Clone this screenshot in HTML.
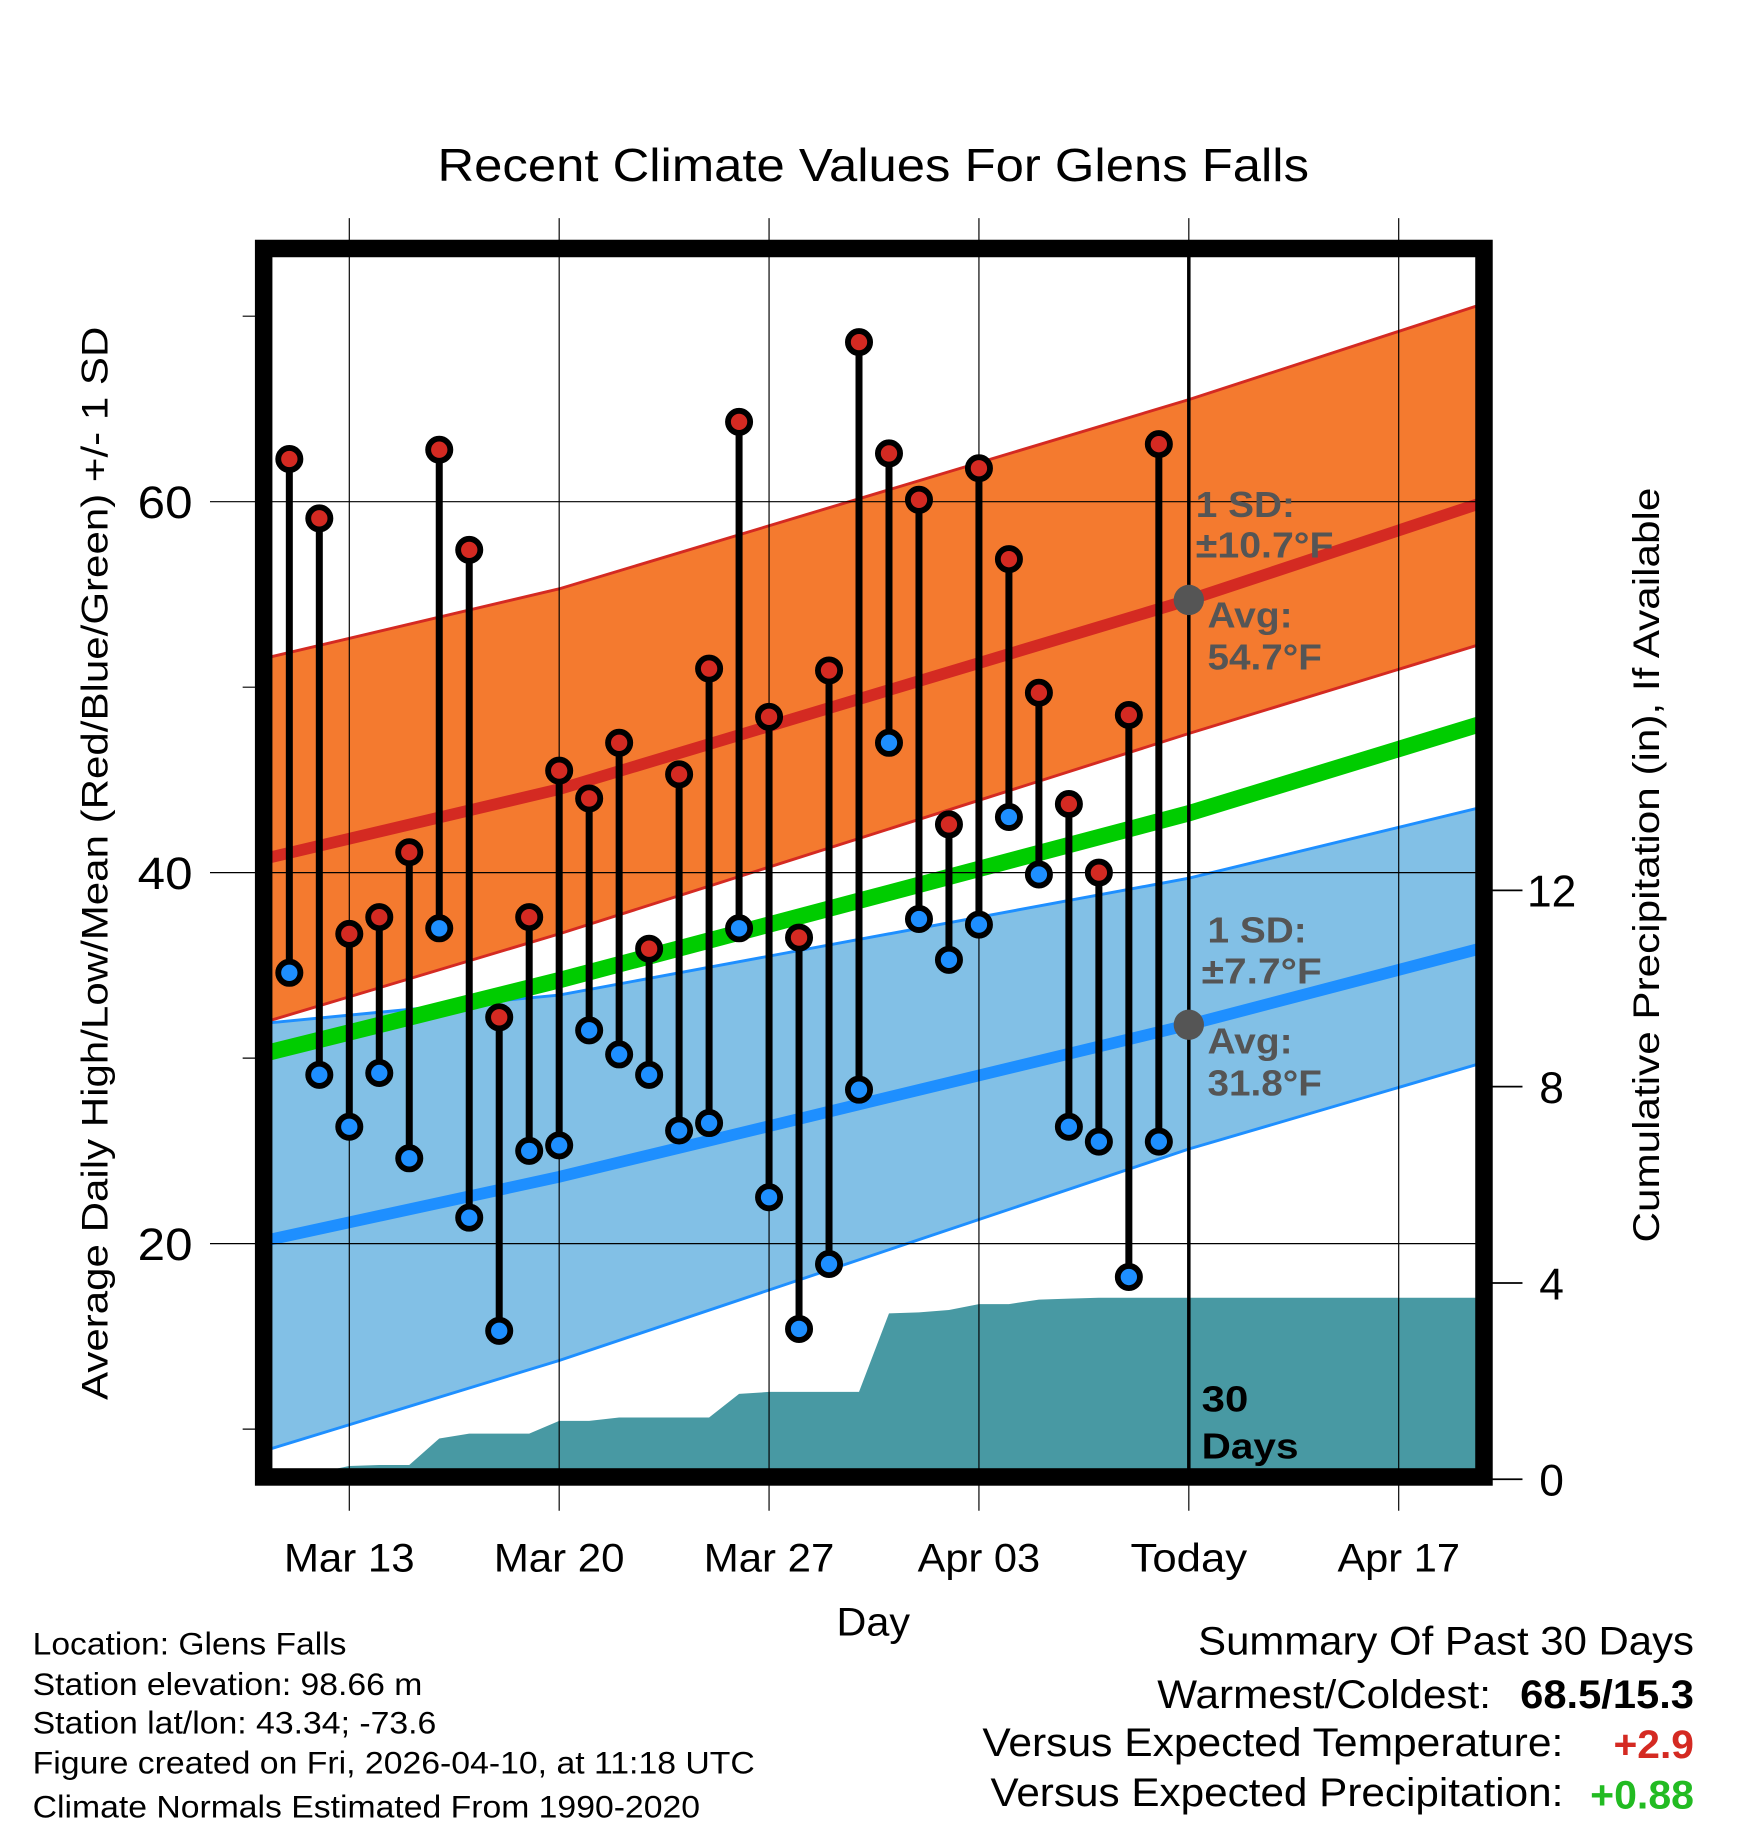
<!DOCTYPE html>
<html><head><meta charset="utf-8"><style>
html,body{margin:0;padding:0;background:#fff}
svg{display:block;font-family:"Liberation Sans",Arial,sans-serif}
</style></head><body>
<svg id="chart" width="1748" height="1828" viewBox="0 0 1498.3 1566.9" preserveAspectRatio="none" xmlns="http://www.w3.org/2000/svg">
<g id="bands"></g>
<g id="grid"></g>
<g id="marks"></g>
<g id="frame"></g>
<g id="texts"></g>
</svg>
<script>
const days = ["Mar 11","Mar 12","Mar 13","Mar 14","Mar 15","Mar 16","Mar 17","Mar 18","Mar 19","Mar 20","Mar 21","Mar 22","Mar 23","Mar 24","Mar 25","Mar 26","Mar 27","Mar 28","Mar 29","Mar 30","Mar 31","Apr 01","Apr 02","Apr 03","Apr 04","Apr 05","Apr 06","Apr 07","Apr 08","Apr 09"];
const highs = [62.3,59.1,36.7,37.6,41.1,62.8,57.4,32.2,37.6,45.5,44.0,47.0,35.9,45.3,51.0,64.3,48.4,36.5,50.9,68.6,62.6,60.1,42.6,61.8,56.9,49.7,43.7,40.0,48.5,63.1];
const lows = [34.6,29.1,26.3,29.2,24.6,37.0,21.4,15.3,25.0,25.3,31.5,30.2,29.1,26.1,26.5,37.0,22.5,15.4,18.9,28.3,47.0,37.5,35.3,37.2,43.0,39.9,26.3,25.5,18.2,25.5];
const precip = [0,0,0.27,0.29,0.29,0.83,0.93,0.93,0.93,1.19,1.19,1.26,1.26,1.26,1.26,1.74,1.78,1.78,1.78,1.78,3.38,3.40,3.45,3.57,3.57,3.66,3.68,3.70,3.70,3.70];
// normals sampled at knot days (day 0 = Mar 11)
const normDays = [-0.7,9,30,39.7];
const normHigh = [40.8,44.5,54.7,59.9];
const highBandUpper = [51.6,55.3,65.5,70.6];
const highBandLower = [32.0,36.7,47.5,52.3];
const normMean = [30.3,34.2,43.2,48.0];
const lowBandUpper = [31.9,33.4,39.7,43.5];
const normLow = [20.2,23.6,31.8,35.9];
const lowBandLower = [8.9,13.7,25.1,29.7];
const todayHighAvg = 54.7;
const todayLowAvg = 31.8;
const tempTicks = [20,40,60];
const tempMinor = [10,30,50,70];
const precipTicks = [0,4,8,12];
const dateTicks = ["Mar 13","Mar 20","Mar 27","Apr 03","Today","Apr 17"];
const dateTickDay = [2,9,16,23,30,37];

const NS="http://www.w3.org/2000/svg";
const L=230,R=1268,T=217,B=1262;
const xDay=d=>248+25.7*d;
const yT=t=>430-(t-60)*15.9;
const yP=p=>1268-p*42.07;
function mk(parent,tag,attrs,text){const e=document.createElementNS(NS,tag);for(const k in attrs)e.setAttribute(k,attrs[k]);if(text!==undefined)e.textContent=text;document.getElementById(parent).appendChild(e);return e;}
function pts(vals){return vals.map((v,i)=>`${xDay(normDays[i])},${yT(v)}`);}
function band(up,lo,fill,stroke){
  const p=pts(up).concat(pts(lo).reverse()).join(' ');
  return mk('bands','polygon',{points:p,fill:fill,stroke:stroke,'stroke-width':2.5});
}
let e;
e=band(highBandUpper,highBandLower,'#f47a2f','#d42a22');


e=band(lowBandUpper,lowBandLower,'#82c0e6','#1e8fff');


function line(v,col,w,name){
  const l=mk('bands','polyline',{points:pts(v).join(' '),fill:'none',stroke:col,'stroke-width':w});
  
  
}
line(normMean,'#00cc00',14,'normal-mean-line');
line(normHigh,'#d42a22',10,'normal-high-line');
line(normLow,'#1e8fff',10,'normal-low-line');
// precip area
let pp=`${L},${B} ${L},${yP(0)} `;
precip.forEach((p,i)=>{pp+=`${xDay(i)},${Math.min(yP(p),B)} `;});
pp+=`${R},${yP(precip[precip.length-1])} ${R},${B}`;
e=mk('bands','polygon',{points:pp,fill:'#4899a3'});


const xLabW=[112,112,112,105,100,105];
dateTicks.forEach((lab,i)=>{
  const x=xDay(dateTickDay[i]);
  e=mk('grid','line',{x1:x,y1:187,x2:x,y2:1295,stroke:'#000','stroke-width':1});
  
  
  e=mk('texts','text',{x:x-xLabW[i]/2,y:1347,'font-size':34,textLength:xLabW[i],lengthAdjust:'spacingAndGlyphs'},lab);
  
  
});
tempTicks.forEach(t=>{
  e=mk('grid','line',{x1:180,y1:yT(t),x2:R,y2:yT(t),stroke:'#000','stroke-width':1});
  
  
  e=mk('texts','text',{x:118,y:yT(t)+14,'font-size':39,textLength:47,lengthAdjust:'spacingAndGlyphs'},String(t));
  
  
});
tempMinor.forEach(t=>{
  e=mk('grid','line',{x1:208,y1:yT(t),x2:222,y2:yT(t),stroke:'#000','stroke-width':1});
  
  
});
precipTicks.forEach(p=>{
  e=mk('grid','line',{x1:1276,y1:yP(p),x2:1305,y2:yP(p),stroke:'#000','stroke-width':1.5});
  
  
  e=mk('texts','text',{x:1330,y:yP(p)+14,'font-size':38,'text-anchor':'middle'},String(p));
  
  
});
e=mk('grid','line',{x1:xDay(30),y1:T,x2:xDay(30),y2:B,stroke:'#000','stroke-width':3});


days.forEach((d,i)=>{
  const x=xDay(i);
  e=mk('marks','line',{x1:x,y1:yT(highs[i]),x2:x,y2:yT(lows[i]),stroke:'#000','stroke-width':6});
  
  
});
days.forEach((d,i)=>{
  const x=xDay(i);
  e=mk('marks','circle',{cx:x,cy:yT(highs[i]),r:9.5,fill:'#d42a22',stroke:'#000','stroke-width':5});
  
  
  e=mk('marks','circle',{cx:x,cy:yT(lows[i]),r:9.5,fill:'#1e8fff',stroke:'#000','stroke-width':5});
  
  
});
e=mk('marks','circle',{cx:xDay(30),cy:yT(todayHighAvg),r:13,fill:'#555'});


e=mk('marks','circle',{cx:xDay(30),cy:yT(todayLowAvg),r:13,fill:'#555'});


e=mk('frame','rect',{x:226,y:213,width:1046,height:1053,fill:'none',stroke:'#000','stroke-width':15});


const ann=[["1 SD:",1025,443,'#555',85],["±10.7°F",1025,478,'#555',118],["Avg:",1035,538,'#555',73],["54.7°F",1035,574,'#555',98],
["1 SD:",1035,808,'#555',85],["±7.7°F",1030,843,'#555',103],["Avg:",1035,903,'#555',73],["31.8°F",1035,939,'#555',98],["30",1030,1210,'#000',40],["Days",1030,1250,'#000',83]];
ann.forEach(a=>{
  e=mk('texts','text',{x:a[1],y:a[2],'font-size':31,'font-weight':'bold',fill:a[3],textLength:a[4],lengthAdjust:'spacingAndGlyphs'},a[0]);
  
  
});
</script>
<script>
(function(){
const NS="http://www.w3.org/2000/svg";
function t(name,x,y,size,txt,w,extra){
  const e=document.createElementNS(NS,'text');
  e.setAttribute('x',x);e.setAttribute('y',y);e.setAttribute('font-size',size);
  e.setAttribute('textLength',w);e.setAttribute('lengthAdjust','spacingAndGlyphs');
  if(extra)for(const k in extra)e.setAttribute(k,extra[k]);
  e.textContent=txt;
  
  
  document.getElementById('texts').appendChild(e);
  return e;
}
t('chart-title',375,155,40,'Recent Climate Values For Glens Falls',747);
t('y-axis-title',0,0,32,'Average Daily High/Low/Mean (Red/Blue/Green) +/- 1 SD',920,{transform:'translate(92,1200) rotate(-90)'});
t('precip-axis-title',0,0,32,'Cumulative Precipitation (in), If Available',647,{transform:'translate(1422,1065) rotate(-90)'});
t('x-axis-title',717,1402,34,'Day',63);
const info=["Location: Glens Falls","Station elevation: 98.66 m","Station lat/lon: 43.34; -73.6","Figure created on Fri, 2026-04-10, at 11:18 UTC","Climate Normals Estimated From 1990-2020"];
const iw=[269,334,346,619,572];
const iy=[1418,1453,1486,1520,1558];
info.forEach((s,i)=>t('station-info',28,iy[i],27,s,iw[i]));
t('summary-title',1027,1418,34,'Summary Of Past 30 Days',425);
t('summary-label',992,1464,34,'Warmest/Coldest:',286);
t('summary-value',1303,1464,34,'68.5/15.3',149,{'font-weight':'bold'});
t('summary-label',842,1505,34,'Versus Expected Temperature:',498);
t('summary-value',1383,1507,34,'+2.9',69,{'font-weight':'bold',fill:'#d42a22'});
t('summary-label',849,1548,34,'Versus Expected Precipitation:',491);
t('summary-value',1363,1550,34,'+0.88',89,{'font-weight':'bold',fill:'#22bb22'});
})();
</script>
</body></html>
